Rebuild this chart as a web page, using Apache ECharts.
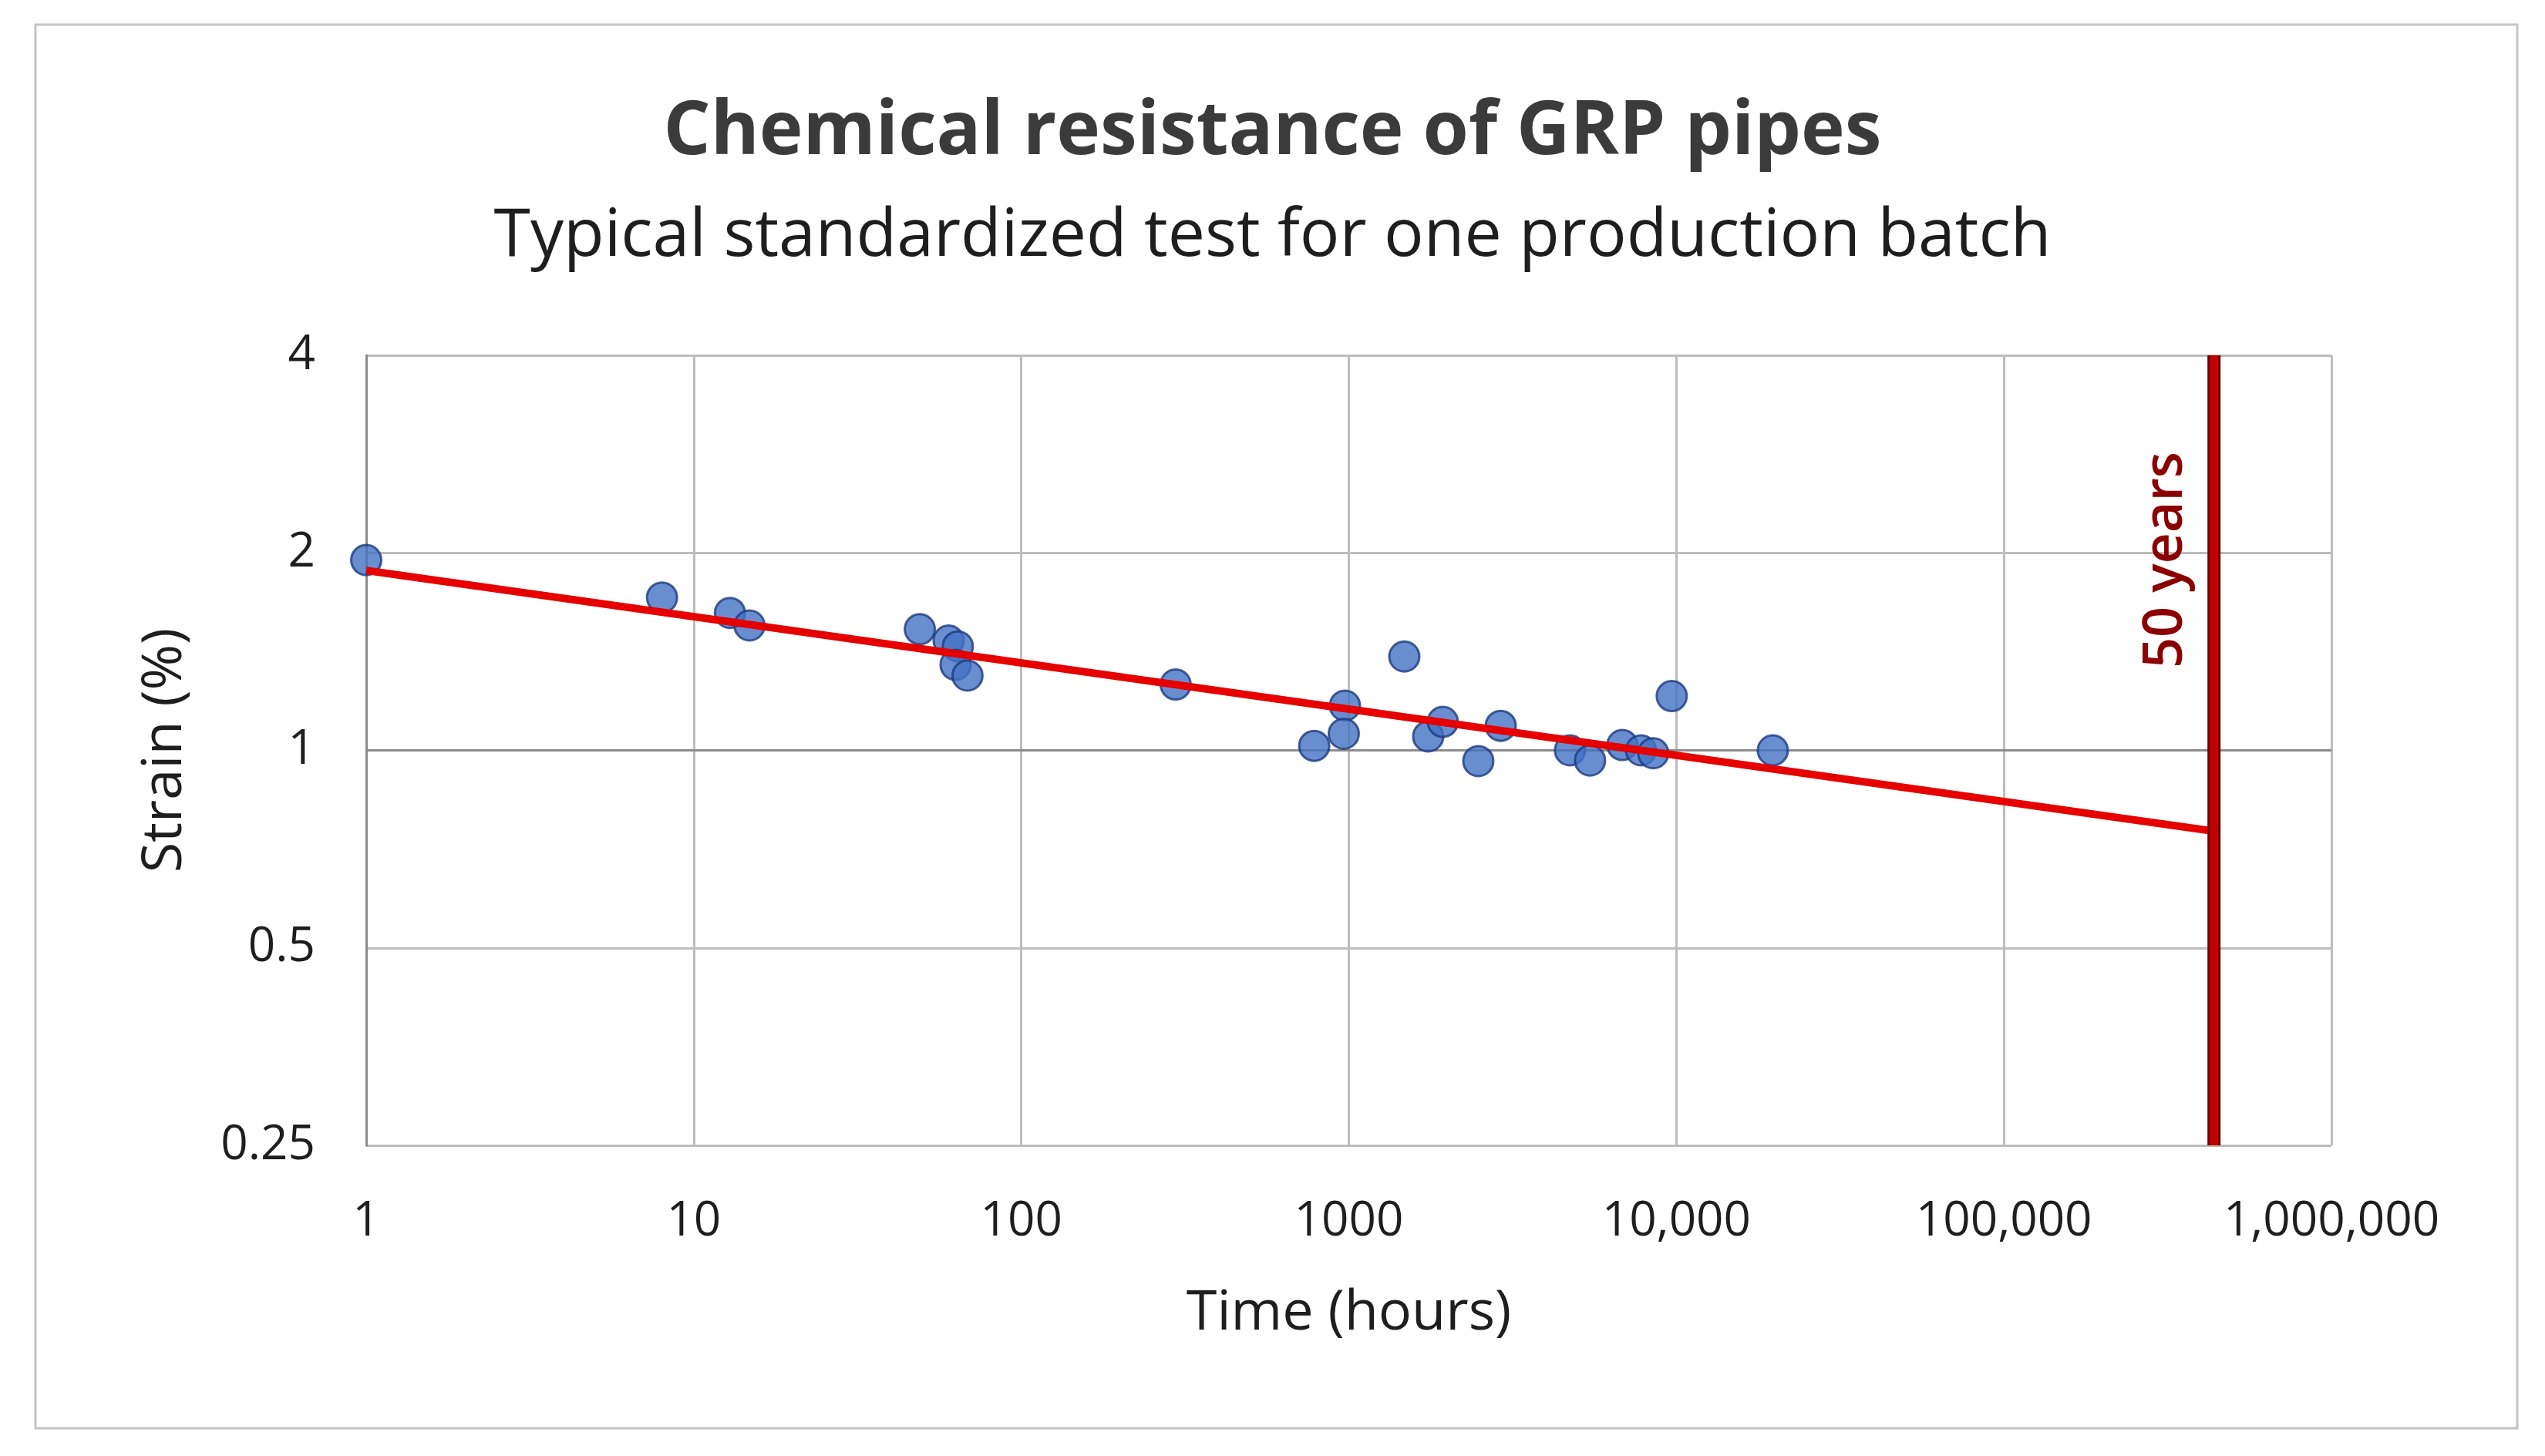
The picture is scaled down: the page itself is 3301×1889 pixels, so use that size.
<!DOCTYPE html>
<html>
<head>
<meta charset="utf-8">
<script src="https://cdn.jsdelivr.net/npm/echarts@6/dist/echarts.min.js"></script>
<style>
  html, body { margin: 0; padding: 0; background: #ffffff; }
  #chart { width: 3301px; height: 1889px; }
</style>
</head>
<body>
<div id="chart"></div>
<script>
// test points (hours, strain %)
var timeHours = [1, 8, 12.9, 14.8, 49, 60, 64, 63, 68.5, 296, 784, 973, 965, 1477, 1747, 1936, 2485, 2909, 4733, 5450, 6840, 7800, 8500, 9680, 19700];
var strainPct = [1.95, 1.71, 1.62, 1.55, 1.53, 1.47, 1.44, 1.35, 1.30, 1.26, 1.016, 1.17, 1.06, 1.39, 1.05, 1.105, 0.963, 1.09, 1.0, 0.965, 1.019, 1.0, 0.99, 1.21, 1.0];

// regression line end points
var trendHours = [1, 438000];
var trendStrain = [1.88, 0.753];

// 50 years = 438 000 hours
var fiftyYearsHours = 438000;
var fiftyYearsSpan = [0.25, 4];

var xTickLabels = ["1", "10", "100", "1000", "10,000", "100,000", "1,000,000"];
var yTickLabels = ["0.25", "0.5", "1", "2", "4"];

var font = "'Open Sans', 'Liberation Sans', sans-serif";

var pts = timeHours.map(function (t, i) { return [t, strainPct[i]]; });
var trend = trendHours.map(function (t, i) { return [t, trendStrain[i]]; });
var fifty = fiftyYearsSpan.map(function (s) { return [fiftyYearsHours, s]; });

var frame = {
  type: "rect",
  shape: { x: 46, y: 32, width: 3219, height: 1821 },
  style: { fill: "none", stroke: "#c4c4c4", lineWidth: 3 },
  z: -1
};

var mychart = echarts.init(document.getElementById("chart"));
var option = {
  animation: false,
  backgroundColor: "#ffffff",
  title: [
    {
      text: "Chemical resistance of GRP pipes",
      left: "center",
      top: 120,
      textStyle: { fontFamily: font, fontSize: 96, fontWeight: "bold", color: "#3b3b3b" }
    },
    {
      text: "Typical standardized test for one production batch",
      left: "center",
      top: 259,
      textStyle: { fontFamily: font, fontSize: 86, fontWeight: "normal", color: "#1e1e1e" }
    }
  ],
  graphic: [frame],
  grid: { left: 475, right: 277, top: 461, bottom: 403 },
  xAxis: {
    type: "log",
    logBase: 10,
    min: 1,
    max: 1000000,
    name: "Time (hours)",
    nameLocation: "middle",
    nameGap: 182,
    nameTextStyle: { fontFamily: font, fontSize: 72, color: "#1e1e1e" },
    axisLine: { show: false },
    axisTick: { show: false },
    axisLabel: {
      fontFamily: font,
      fontSize: 62,
      color: "#1e1e1e",
      margin: 68,
      formatter: function (v) {
        return xTickLabels[Math.round(Math.log10(v))];
      }
    },
    splitLine: { show: true, lineStyle: { color: "#bdbdbd", width: 3 } }
  },
  yAxis: {
    type: "log",
    logBase: 2,
    min: 0.25,
    max: 4,
    name: "Strain (%)",
    nameLocation: "middle",
    nameGap: 225,
    nameTextStyle: { fontFamily: font, fontSize: 72, color: "#1e1e1e" },
    axisLine: { show: true, lineStyle: { color: "#8c8c8c", width: 3 } },
    axisTick: { show: false },
    axisLabel: {
      fontFamily: font,
      fontSize: 62,
      color: "#1e1e1e",
      margin: 66,
      formatter: function (v) {
        return yTickLabels[Math.round(Math.log2(v)) + 2];
      }
    },
    splitLine: { show: true, lineStyle: { color: "#bdbdbd", width: 3 } }
  },
  series: [
    {
      // horizontal axis crosses at strain 1
      name: "axis1",
      type: "line",
      data: [[1, 1], [1000000, 1]],
      symbol: "none",
      silent: true,
      lineStyle: { color: "#8c8c8c", width: 3 },
      z: 1
    },
    {
      name: "tests",
      type: "scatter",
      data: pts,
      symbol: "circle",
      symbolSize: 39,
      itemStyle: { color: "#4472c4", borderColor: "#1c3a80", borderWidth: 3 },
      z: 3
    },
    {
      name: "trend",
      type: "line",
      data: trend,
      symbol: "none",
      lineStyle: { color: "#e60000", width: 10 },
      z: 4
    },
    {
      name: "fiftyEdge",
      type: "line",
      data: fifty,
      symbol: "none",
      lineStyle: { color: "#6e0000", width: 17 },
      z: 5
    },
    {
      name: "fifty",
      type: "line",
      data: fifty,
      symbol: "none",
      lineStyle: { color: "#c00000", width: 11 },
      z: 6
    }
  ]
};
mychart.setOption(option, true);

// "50 years" label placed next to the vertical line
var p = mychart.convertToPixel({ gridIndex: 0 }, [fiftyYearsHours, 1.95]);
mychart.setOption({
  graphic: [
    frame,
    {
      type: "text",
      x: p[0] - 62,
      y: p[1],
      rotation: Math.PI / 2,
      style: {
        text: "50 years",
        fontFamily: font,
        fontSize: 70,
        fontWeight: 600,
        fill: "#8b0000",
        align: "center",
        verticalAlign: "middle"
      },
      z: 10
    }
  ]
});
</script>
</body>
</html>
